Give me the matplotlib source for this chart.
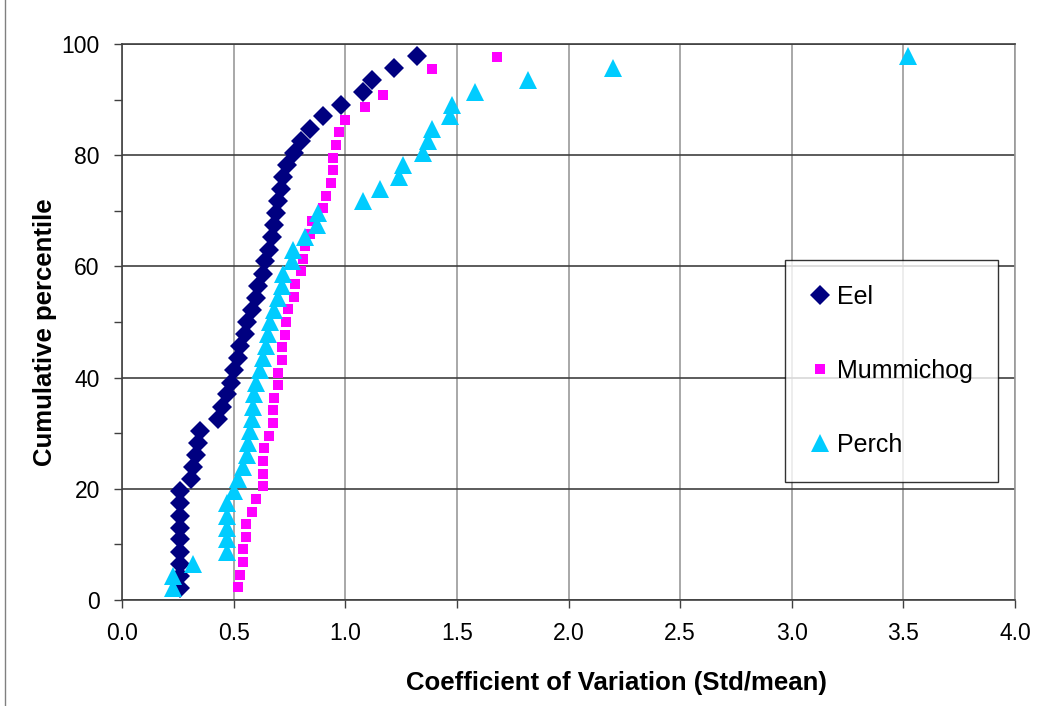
import matplotlib.pyplot as plt
from matplotlib.lines import Line2D

# Cumulative percentile levels
pct_45 = [2.2, 4.3, 6.5, 8.7, 10.9, 13.0, 15.2, 17.4, 19.6, 21.7, 23.9, 26.1, 28.3, 30.4, 32.6,
          34.8, 37.0, 39.1, 41.3, 43.5, 45.7, 47.8, 50.0, 52.2, 54.3, 56.5, 58.7, 60.9, 63.0, 65.2,
          67.4, 69.6, 71.7, 73.9, 76.1, 78.3, 80.4, 82.6, 84.8, 87.0, 89.1, 91.3, 93.5, 95.7, 97.8]
pct_mummichog = [2.3, 4.5, 6.8, 9.1, 11.4, 13.6, 15.9, 18.2, 20.5, 22.7, 25.0, 27.3, 29.5, 31.8,
                 34.1, 36.4, 38.6, 40.9, 43.2, 45.5, 47.7, 50.0, 52.3, 54.5, 56.8, 59.1, 61.4, 63.6,
                 65.9, 68.2, 70.5, 72.7, 75.0, 77.3, 79.5, 81.8, 84.1, 86.4, 88.6, 90.9, 95.5, 97.7]

# Coefficient of variation per species
cv_eel = [0.26, 0.26, 0.26, 0.26, 0.26, 0.26, 0.26, 0.26, 0.26, 0.31, 0.32, 0.33, 0.34, 0.35, 0.43,
          0.45, 0.47, 0.49, 0.50, 0.52, 0.53, 0.55, 0.56, 0.58, 0.60, 0.61, 0.63, 0.64, 0.66, 0.67,
          0.68, 0.69, 0.70, 0.71, 0.72, 0.74, 0.77, 0.80, 0.84, 0.90, 0.98, 1.08, 1.12, 1.22, 1.32]
cv_mummichog = [0.52, 0.53, 0.54, 0.54, 0.555, 0.555, 0.58, 0.60, 0.63, 0.63, 0.63, 0.635, 0.66, 0.675,
                0.675, 0.68, 0.70, 0.70, 0.715, 0.715, 0.73, 0.735, 0.745, 0.77, 0.775, 0.80, 0.81, 0.82,
                0.84, 0.85, 0.90, 0.915, 0.935, 0.945, 0.945, 0.96, 0.97, 1.00, 1.09, 1.17, 1.39, 1.68]
cv_perch = [0.23, 0.23, 0.32, 0.47, 0.47, 0.47, 0.47, 0.47, 0.50, 0.52, 0.54, 0.56, 0.565, 0.575, 0.58,
            0.585, 0.59, 0.60, 0.62, 0.63, 0.645, 0.655, 0.665, 0.68, 0.70, 0.715, 0.72, 0.76, 0.765, 0.82,
            0.875, 0.88, 1.08, 1.155, 1.24, 1.26, 1.35, 1.37, 1.39, 1.47, 1.48, 1.58, 1.82, 2.20, 3.52]

x_ticks = [0.0, 0.5, 1.0, 1.5, 2.0, 2.5, 3.0, 3.5, 4.0]
y_ticks = [0, 20, 40, 60, 80, 100]
y_minor = [10, 30, 50, 70, 90]

plt.rcParams['font.family'] = ['Liberation Sans', 'DejaVu Sans']

fig = plt.figure(figsize=(10.42, 7.06), dpi=100)
ax = fig.add_axes([0.1171, 0.1501, 0.8570, 0.7876])

ax.plot(cv_eel, pct_45, linestyle='none', marker='D', markersize=10, color='#000080',
        markeredgewidth=0, label='Eel', zorder=3)
ax.plot(cv_mummichog, pct_mummichog, linestyle='none', marker='s', markersize=7.5, color='#FF00FF',
        markeredgewidth=0, label='Mummichog', zorder=3)
ax.plot(cv_perch, pct_45, linestyle='none', marker='^', markersize=13.5, color='#00CCFF',
        markeredgewidth=0, label='Perch', zorder=3)

ax.set_xlim(0, 4)
ax.set_ylim(0, 100)
ax.set_xticks(x_ticks)
ax.set_xticklabels(['%.1f' % v for v in x_ticks], fontsize=16.5)
ax.set_yticks(y_ticks)
ax.set_yticklabels([str(v) for v in y_ticks], fontsize=16.5)
ax.set_yticks(y_minor, minor=True)
ax.tick_params(axis='both', which='both', direction='out', length=6, width=1, color='#404040')
ax.tick_params(axis='x', pad=10)
ax.tick_params(axis='y', pad=10)

# grid: dark horizontal lines, lighter vertical lines
ax.grid(axis='y', which='major', color='#404040', linewidth=1.2, zorder=0)
ax.grid(axis='x', which='major', color='#999999', linewidth=1.2, zorder=0)
ax.set_axisbelow(True)
for s in ['left', 'bottom', 'top']:
    ax.spines[s].set_color('#404040')
    ax.spines[s].set_linewidth(1.2)
ax.spines['right'].set_color('#999999')
ax.spines['right'].set_linewidth(1.2)

ax.set_xlabel('Coefficient of Variation (Std/mean)', fontsize=18.5, fontweight='bold')
ax.set_ylabel('Cumulative percentile', fontsize=18.5, fontweight='bold')
ax.xaxis.set_label_coords(0.554, -0.149)
ax.yaxis.set_label_coords(-0.086, 0.482)
ax.xaxis.label.set_va('center')
ax.yaxis.label.set_va('center')

leg = ax.legend(loc='upper left', bbox_to_anchor=(0.742, 0.6115), borderaxespad=0,
                fontsize=18, frameon=True, fancybox=False, shadow=False,
                handlelength=0.8, handletextpad=0.3, borderpad=1.0, labelspacing=2.0,
                numpoints=1)
leg.get_frame().set_edgecolor('#000000')
leg.get_frame().set_linewidth(1.0)

# chart-area border on the left edge
fig.add_artist(Line2D([5 / 1042, 5 / 1042], [0, 1], color='#808080', linewidth=1))

fig.savefig('out.png', dpi=100)
